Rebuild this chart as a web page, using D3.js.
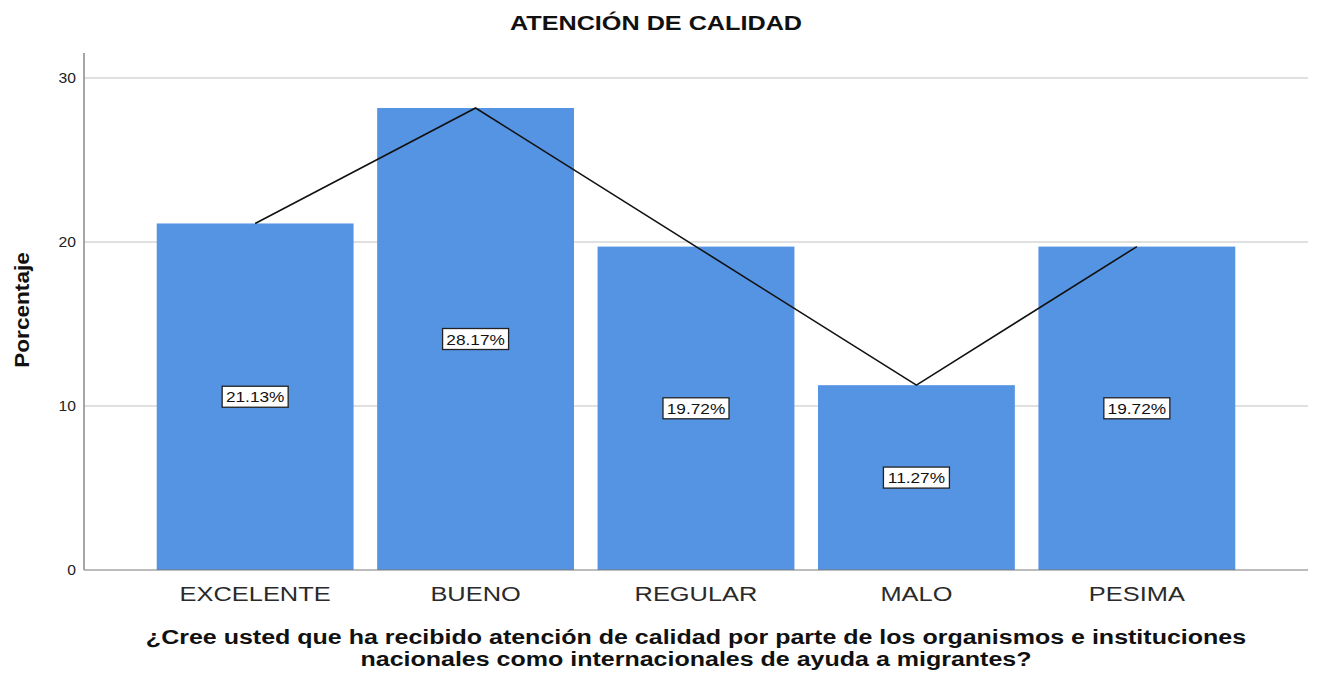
<!DOCTYPE html>
<html>
<head>
<script src="https://d3js.org/d3.v7.min.js"></script>
<style>
  body { margin: 0; background: #fff; }
  text { font-family: "Liberation Sans", Arial, sans-serif; }
</style>
</head>
<body>
<svg width="1317" height="678"></svg>
<script>
const categories = ["EXCELENTE", "BUENO", "REGULAR", "MALO", "PESIMA"];
const percents = [21.13, 28.17, 19.72, 11.27, 19.72];
const yTicks = [0, 10, 20, 30];

const svg = d3.select("svg");
const plotLeft = 84, plotRight = 1308, plotTop = 53, plotBottom = 570;

// the source image is a bit wider than tall, so text is stretched along its run
function stretch(sel, k) {
  sel.each(function() {
    const w = this.getComputedTextLength();
    d3.select(this).attr("textLength", w * k).attr("lengthAdjust", "spacingAndGlyphs");
  });
}

const x = d3.scaleBand()
  .domain(categories)
  .range([plotLeft, plotRight])
  .paddingInner(0.107)
  .paddingOuter(0.33);

const y = d3.scaleLinear()
  .domain([0, 30])
  .range([plotBottom, 78]);

// gridlines
svg.append("g")
  .selectAll("line")
  .data(yTicks.slice(1))
  .enter().append("line")
  .attr("x1", plotLeft).attr("x2", plotRight)
  .attr("y1", d => y(d)).attr("y2", d => y(d))
  .attr("stroke", "#d6d6d6")
  .attr("stroke-width", 1.5);

// bars
svg.append("g")
  .selectAll("rect")
  .data(percents)
  .enter().append("rect")
  .attr("x", (d, i) => x(categories[i]))
  .attr("y", d => y(d))
  .attr("width", x.bandwidth())
  .attr("height", d => plotBottom - y(d))
  .attr("fill", "#5594e3");

// axes lines
svg.append("line")
  .attr("x1", plotLeft).attr("x2", plotRight)
  .attr("y1", plotBottom).attr("y2", plotBottom)
  .attr("stroke", "#7a7a7a").attr("stroke-width", 1.2);
svg.append("line")
  .attr("x1", plotLeft).attr("x2", plotLeft)
  .attr("y1", plotTop).attr("y2", plotBottom)
  .attr("stroke", "#8a8a8a").attr("stroke-width", 1.5);

// y tick labels
svg.append("g")
  .selectAll("text")
  .data(yTicks)
  .enter().append("text")
  .attr("x", plotLeft - 8)
  .attr("y", d => y(d) + 5)
  .attr("text-anchor", "end")
  .attr("font-size", 14)
  .attr("fill", "#222")
  .text(d => d)
  .call(stretch, 1.12);

// line through bar tops
const line = d3.line()
  .x((d, i) => x(categories[i]) + x.bandwidth() / 2)
  .y(d => y(d));
svg.append("path")
  .datum(percents)
  .attr("d", line)
  .attr("fill", "none")
  .attr("stroke", "#111")
  .attr("stroke-width", 1.6);

// value labels
const lab = svg.append("g")
  .selectAll("g")
  .data(percents)
  .enter().append("g")
  .attr("transform", (d, i) => `translate(${x(categories[i]) + x.bandwidth() / 2},${y(d / 2)})`);
lab.append("rect")
  .attr("x", -33).attr("y", -10.5)
  .attr("width", 66).attr("height", 21)
  .attr("fill", "#fff")
  .attr("stroke", "#222")
  .attr("stroke-width", 1.3);
lab.append("text")
  .attr("text-anchor", "middle")
  .attr("y", 5.5)
  .attr("font-size", 15)
  .attr("fill", "#111")
  .text(d => d.toFixed(2) + "%")
  .call(stretch, 1.15);

// x category labels
svg.append("g")
  .selectAll("text")
  .data(categories)
  .enter().append("text")
  .attr("x", d => x(d) + x.bandwidth() / 2)
  .attr("y", 601)
  .attr("text-anchor", "middle")
  .attr("font-size", 20)
  .attr("fill", "#2a2a2a")
  .text(d => d)
  .call(stretch, 1.27);

// title
svg.append("text")
  .attr("x", 656).attr("y", 30)
  .attr("text-anchor", "middle")
  .attr("font-size", 21)
  .attr("font-weight", "bold")
  .attr("fill", "#111")
  .text("ATENCIÓN DE CALIDAD")
  .call(stretch, 1.2);

// y axis title
svg.append("text")
  .attr("transform", "translate(29,310) rotate(-90)")
  .attr("text-anchor", "middle")
  .attr("font-size", 20)
  .attr("font-weight", "bold")
  .attr("fill", "#111")
  .text("Porcentaje")
  .call(stretch, 1.13);

// x axis title
const xt = svg.append("text")
  .attr("text-anchor", "middle")
  .attr("font-size", 20)
  .attr("font-weight", "bold")
  .attr("fill", "#111");
xt.append("tspan").attr("x", 696).attr("y", 644)
  .text("¿Cree usted que ha recibido atención de calidad por parte de los organismos e instituciones")
  .call(stretch, 1.25);
xt.append("tspan").attr("x", 696).attr("y", 666)
  .text("nacionales como internacionales de ayuda a migrantes?")
  .call(stretch, 1.25);
</script>
</body>
</html>
